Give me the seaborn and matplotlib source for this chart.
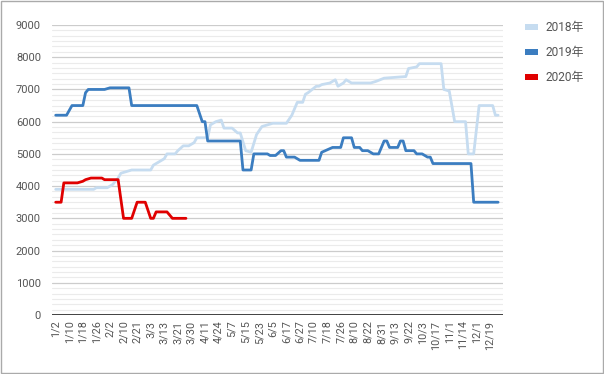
import matplotlib
matplotlib.use('Agg')
import matplotlib.pyplot as plt
import seaborn as sns
import pandas as pd
from matplotlib.ticker import MultipleLocator, FixedLocator
from matplotlib.patches import Rectangle, Patch

# ---- data ----
x_labels = ["1/2", "1/10", "1/18", "1/26", "2/2", "2/10", "2/21", "3/3", "3/13", "3/21",
            "3/30", "4/11", "4/24", "5/7", "5/15", "5/23", "6/5", "6/17", "6/27", "7/10",
            "7/18", "7/26", "8/10", "8/22", "8/31", "9/13", "9/22", "10/3", "10/17", "11/1",
            "11/14", "12/1", "12/19"]
label_step = 5  # one label every 5 categories
n_categories = 164

series_names = ["2018年", "2019年", "2020年"]
series_colors = ["#c6dcf0", "#3b7dc0", "#e00000"]

idx_2018 = [0, 14, 15, 19, 21, 23, 24, 28, 35, 36, 38, 40, 41, 44, 45, 47, 49, 51, 52, 56,
            57, 59, 61, 62, 65, 67, 68, 70, 72, 74, 76, 78, 80, 85, 87, 89, 91, 92, 93, 96,
            97, 98, 101, 103, 104, 106, 107, 109, 116, 118, 121, 129, 130, 133, 134, 142, 143, 145, 147, 151,
            152, 154, 156, 161, 162, 163]
val_2018 = [3900, 3900, 3950, 3950, 4050, 4250, 4400, 4500, 4500, 4650, 4750, 4850, 5000, 5000, 5100, 5250, 5250, 5350, 5500, 5500,
            5900, 6000, 6050, 5800, 5800, 5650, 5650, 5100, 5050, 5600, 5850, 5900, 5950, 5950, 6200, 6600, 6600, 6850, 6900, 7100,
            7100, 7150, 7200, 7300, 7100, 7200, 7300, 7200, 7200, 7250, 7350, 7400, 7650, 7700, 7800, 7800, 7000, 6950, 6000, 6000,
            5000, 5000, 6500, 6500, 6200, 6200]

idx_2019 = [0, 4, 6, 10, 11, 12, 18, 20, 27, 28, 52, 54, 55, 56, 68, 69, 72, 73, 78, 79,
            81, 83, 84, 85, 88, 90, 97, 98, 102, 105, 106, 109, 110, 112, 113, 115, 117, 119, 121, 122,
            123, 126, 127, 128, 129, 132, 133, 135, 137, 138, 139, 153, 154, 163]
val_2019 = [6200, 6200, 6500, 6500, 6900, 7000, 7000, 7050, 7050, 6500, 6500, 6000, 6000, 5400, 5400, 4500, 4500, 5000, 5000, 4950,
            4950, 5100, 5100, 4900, 4900, 4800, 4800, 5050, 5200, 5200, 5500, 5500, 5200, 5200, 5100, 5100, 5000, 5000, 5400, 5400,
            5200, 5200, 5400, 5400, 5100, 5100, 5000, 5000, 4900, 4900, 4700, 4700, 3500, 3500]

idx_2020 = [0, 2, 3, 8, 10, 11, 13, 17, 18, 23, 25, 28, 30, 33, 35, 36, 37, 41, 43, 48]
val_2020 = [3500, 3500, 4100, 4100, 4150, 4200, 4250, 4250, 4200, 4200, 3000, 3000, 3500, 3500, 3000, 3000, 3200, 3200, 3000, 3000]

frames = []
for name, idx, val in zip(series_names, [idx_2018, idx_2019, idx_2020], [val_2018, val_2019, val_2020]):
    frames.append(pd.DataFrame({"idx": idx, "value": val, "series": name}))
df = pd.concat(frames, ignore_index=True)

# ---- style ----
sns.set_style("white")
plt.rcParams['font.family'] = ['Roboto', 'Noto Sans CJK SC', 'DejaVu Sans']

fig = plt.figure(figsize=(6.04, 3.74), dpi=100)
ax = fig.add_axes([52 / 604, 1 - 315 / 374, (503 - 52) / 604, (315 - 25) / 374])

sns.lineplot(data=df, x="idx", y="value", hue="series", hue_order=series_names,
             palette=dict(zip(series_names, series_colors)), linewidth=2,
             legend=False, ax=ax, zorder=3)

ax.set_xlim(-1.36, n_categories + 0.8)
ax.set_ylim(0, 9000)

ax.yaxis.set_major_locator(MultipleLocator(1000))
ax.yaxis.set_minor_locator(MultipleLocator(1000 / 6))
ax.grid(which='major', axis='y', color='#cccccc', lw=0.9, zorder=0)
ax.grid(which='minor', axis='y', color='#ebebeb', lw=0.8, zorder=0)
ax.grid(False, axis='x')
ax.axhline(0, color='#333333', lw=1.3, zorder=4)

ax.xaxis.set_major_locator(FixedLocator([i * label_step for i in range(len(x_labels))]))
ax.set_xticklabels(x_labels, rotation=90, fontsize=7.8, color='#555555')
ax.tick_params(axis='x', length=0, pad=4)
ax.tick_params(axis='y', which='both', length=0, pad=8, labelsize=8, labelcolor='#555555')
ax.set_xlabel("")
ax.set_ylabel("")
for s in ax.spines.values():
    s.set_visible(False)

handles = [Patch(facecolor=c, edgecolor='none') for c in series_colors]
leg = fig.legend(handles, series_names, loc='upper left', bbox_to_anchor=(0.852, 0.972),
                 frameon=False, handlelength=1.1, handleheight=0.45, handletextpad=0.55,
                 labelspacing=1.0, fontsize=8.6)
for t in leg.get_texts():
    t.set_color('#555555')

fig.patches.append(Rectangle((0.001, 0.002), 0.997, 0.995, transform=fig.transFigure,
                             fill=False, edgecolor='#aaaaaa', lw=1))

fig.savefig("out.png", dpi=100)
